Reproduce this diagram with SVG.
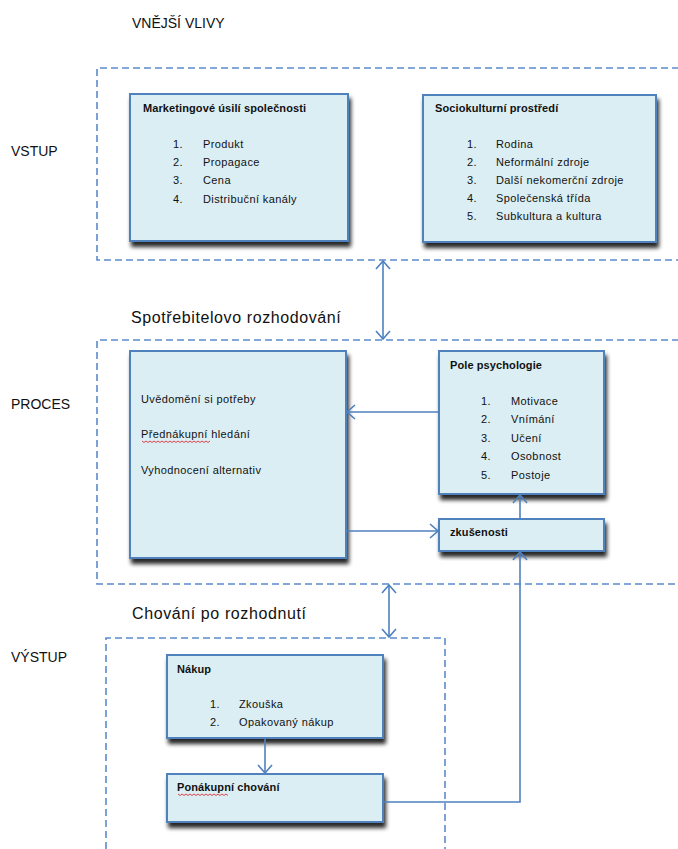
<svg xmlns="http://www.w3.org/2000/svg" width="678" height="849" viewBox="0 0 678 849">
  <style>
    .frame { fill: none; stroke: #5B8BCB; stroke-width: 1.6; stroke-dasharray: 7 4; }
    .box { fill: #DBEEF4; stroke: #4F81BD; stroke-width: 2; }
    .head { font-family: "Liberation Sans", Arial, sans-serif; font-size: 14px; fill: #111; }
    .sub { font-family: "Liberation Sans", Arial, sans-serif; font-size: 16px; fill: #111; letter-spacing: 0.6px; }
    .title { font-family: "Liberation Sans", Arial, sans-serif; font-size: 11px; font-weight: bold; fill: #111; letter-spacing: 0.1px; }
    .item { font-family: "Liberation Sans", Arial, sans-serif; font-size: 11px; fill: #111; letter-spacing: 0.4px; }
    .conn { fill: none; stroke: #4F81BD; stroke-width: 1.6; }
    .squiggle { fill: none; stroke: #E0303A; stroke-width: 0.9; }
  </style>
  <defs>
    <filter id="shadow" x="-10%" y="-10%" width="130%" height="140%">
      <feGaussianBlur in="SourceAlpha" stdDeviation="2"/>
      <feOffset dx="2" dy="5" result="off"/>
      <feComponentTransfer><feFuncA type="linear" slope="0.85"/></feComponentTransfer>
      <feMerge><feMergeNode/><feMergeNode in="SourceGraphic"/></feMerge>
    </filter>
    <marker id="arr" viewBox="0 0 10 16" refX="9" refY="8" markerWidth="10" markerHeight="16" markerUnits="userSpaceOnUse" orient="auto-start-reverse">
      <path d="M1,1 L9,8 L1,15" fill="none" stroke="#4F81BD" stroke-width="1.6"/>
    </marker>
  </defs>

  <rect width="678" height="849" fill="#FFFFFF"/>

  <!-- section labels -->
  <g id="labels">
    <text class="head" x="132" y="28">VNĚJŠÍ VLIVY</text>
    <text class="head" x="11" y="156">VSTUP</text>
    <text class="head" x="11" y="409">PROCES</text>
    <text class="head" x="11" y="662">VÝSTUP</text>
    <text class="sub" x="131" y="323">Spotřebitelovo rozhodování</text>
    <text class="sub" x="132" y="619">Chování po rozhodnutí</text>
  </g>

  <!-- dashed region frames -->
  <g id="frames">
    <path class="frame" d="M690,68 H97 V260 H690"/>
    <path class="frame" d="M690,340 H97 V584 H690"/>
    <path class="frame" d="M106,860 V638 H445 V860"/>
  </g>

  <!-- nodes -->
  <g id="marketing">
    <rect class="box" x="130" y="94" width="218" height="147" filter="url(#shadow)"/>
    <text class="title" x="143" y="112">Marketingové úsilí společnosti</text>
    <text class="item" x="173" y="148">1.</text><text class="item" x="203" y="148">Produkt</text>
    <text class="item" x="173" y="166">2.</text><text class="item" x="203" y="166">Propagace</text>
    <text class="item" x="173" y="184">3.</text><text class="item" x="203" y="184">Cena</text>
    <text class="item" x="173" y="203">4.</text><text class="item" x="203" y="203">Distribuční kanály</text>
  </g>

  <g id="sociokulturni">
    <rect class="box" x="423" y="95" width="233" height="147" filter="url(#shadow)"/>
    <text class="title" x="435" y="112">Sociokulturní prostředí</text>
    <text class="item" x="467" y="148">1.</text><text class="item" x="496" y="148">Rodina</text>
    <text class="item" x="467" y="166">2.</text><text class="item" x="496" y="166">Neformální zdroje</text>
    <text class="item" x="467" y="184">3.</text><text class="item" x="496" y="184">Další nekomerční zdroje</text>
    <text class="item" x="467" y="202">4.</text><text class="item" x="496" y="202">Společenská třída</text>
    <text class="item" x="467" y="220">5.</text><text class="item" x="496" y="220">Subkultura a kultura</text>
  </g>

  <g id="rozhodovani">
    <rect class="box" x="130" y="351" width="216" height="207" filter="url(#shadow)"/>
    <text class="item" x="141" y="403">Uvědomění si potřeby</text>
    <text class="item" x="141" y="438">Přednákupní hledání</text>
    <path class="squiggle" d="M142,441 l2,1.5 l2,-1.5 l2,1.5 l2,-1.5 l2,1.5 l2,-1.5 l2,1.5 l2,-1.5 l2,1.5 l2,-1.5 l2,1.5 l2,-1.5 l2,1.5 l2,-1.5 l2,1.5 l2,-1.5 l2,1.5 l2,-1.5 l2,1.5 l2,-1.5 l2,1.5 l2,-1.5 l2,1.5 l2,-1.5 l2,1.5 l2,-1.5 l2,1.5 l2,-1.5 l2,1.5 l2,-1.5 l2,1.5 l2,-1.5 l2,1.5 l2,-1.5"/>
    <text class="item" x="141" y="474">Vyhodnocení alternativ</text>
  </g>

  <g id="pole-psychologie">
    <rect class="box" x="439" y="351" width="165" height="143" filter="url(#shadow)"/>
    <text class="title" x="450" y="369">Pole psychologie</text>
    <text class="item" x="481" y="405">1.</text><text class="item" x="511" y="405">Motivace</text>
    <text class="item" x="481" y="423">2.</text><text class="item" x="511" y="423">Vnímání</text>
    <text class="item" x="481" y="442">3.</text><text class="item" x="511" y="442">Učení</text>
    <text class="item" x="481" y="460">4.</text><text class="item" x="511" y="460">Osobnost</text>
    <text class="item" x="481" y="479">5.</text><text class="item" x="511" y="479">Postoje</text>
  </g>

  <g id="zkusenosti">
    <rect class="box" x="439" y="519" width="165" height="32" filter="url(#shadow)"/>
    <text class="title" x="450" y="536">zkušenosti</text>
  </g>

  <g id="nakup">
    <rect class="box" x="167" y="655" width="216" height="83" filter="url(#shadow)"/>
    <text class="title" x="177" y="673">Nákup</text>
    <text class="item" x="210" y="708">1.</text><text class="item" x="239" y="708">Zkouška</text>
    <text class="item" x="210" y="726">2.</text><text class="item" x="239" y="726">Opakovaný nákup</text>
  </g>

  <g id="ponakupni">
    <rect class="box" x="167" y="774" width="216" height="48" filter="url(#shadow)"/>
    <text class="title" x="177" y="791">Ponákupní chování</text>
    <path class="squiggle" d="M178,794 l2,1.5 l2,-1.5 l2,1.5 l2,-1.5 l2,1.5 l2,-1.5 l2,1.5 l2,-1.5 l2,1.5 l2,-1.5 l2,1.5 l2,-1.5 l2,1.5 l2,-1.5 l2,1.5 l2,-1.5 l2,1.5 l2,-1.5 l2,1.5 l2,-1.5 l2,1.5 l2,-1.5 l2,1.5 l2,-1.5 l2,1.5"/>
  </g>

  <!-- connectors -->
  <g id="connectors">
    <line class="conn" x1="383" y1="261" x2="383" y2="339" marker-start="url(#arr)" marker-end="url(#arr)"/>
    <line class="conn" x1="389" y1="585" x2="389" y2="637" marker-start="url(#arr)" marker-end="url(#arr)"/>
    <line class="conn" x1="439" y1="412" x2="347" y2="412" marker-end="url(#arr)"/>
    <line class="conn" x1="346" y1="531" x2="438" y2="531" marker-end="url(#arr)"/>
    <line class="conn" x1="520" y1="519" x2="520" y2="495" marker-end="url(#arr)"/>
    <polyline class="conn" points="384,802 520,802 520,552" marker-end="url(#arr)"/>
    <line class="conn" x1="265" y1="738" x2="265" y2="773" marker-end="url(#arr)"/>
  </g>
</svg>
